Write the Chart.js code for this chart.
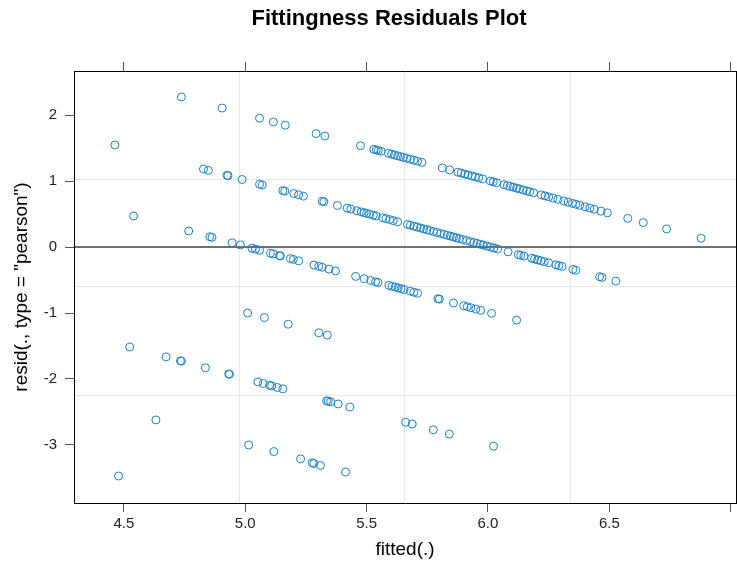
<!DOCTYPE html>
<html>
<head>
<meta charset="utf-8">
<title>Fittingness Residuals Plot</title>
<script src="https://cdn.jsdelivr.net/npm/chart.js"></script>
<style>
  html, body { margin: 0; padding: 0; background: #fff; overflow: hidden; }
  canvas { display: block; }
</style>
</head>
<body>
<canvas id="residChart" width="737" height="575"></canvas>
<script>
// fitted values and pearson residuals, one band at a time
const fitted7 = [4.737, 4.905, 5.059, 5.116, 5.165, 5.292, 5.328, 5.475, 5.530, 5.540, 5.548, 5.560,
  5.590, 5.603, 5.615, 5.628, 5.640, 5.652, 5.665, 5.680, 5.695, 5.710, 5.728, 5.812, 5.842, 5.876,
  5.890, 5.905, 5.918, 5.935, 5.948, 5.962, 5.978, 6.010, 6.022, 6.036, 6.066, 6.080, 6.092, 6.104,
  6.118, 6.130, 6.145, 6.160, 6.172, 6.188, 6.220, 6.235, 6.250, 6.268, 6.288, 6.312, 6.330, 6.348,
  6.362, 6.378, 6.400, 6.420, 6.438, 6.466, 6.492, 6.576, 6.640, 6.736, 6.878];
const resid7 = [2.273, 2.105, 1.951, 1.894, 1.845, 1.718, 1.682, 1.535, 1.480, 1.470, 1.462, 1.450,
  1.420, 1.407, 1.395, 1.382, 1.370, 1.358, 1.345, 1.330, 1.315, 1.300, 1.282, 1.198, 1.168, 1.134,
  1.120, 1.105, 1.092, 1.075, 1.062, 1.048, 1.032, 1.000, 0.988, 0.974, 0.944, 0.930, 0.918, 0.906,
  0.892, 0.880, 0.865, 0.850, 0.838, 0.822, 0.790, 0.775, 0.760, 0.742, 0.722, 0.698, 0.680, 0.662,
  0.648, 0.632, 0.610, 0.590, 0.572, 0.544, 0.518, 0.434, 0.370, 0.274, 0.132];

const fitted6 = [4.463, 4.828, 4.848, 4.925, 4.929, 4.987, 5.059, 5.070, 5.155, 5.163, 5.200, 5.220,
  5.240, 5.317, 5.324, 5.380, 5.420, 5.435, 5.460, 5.478, 5.490, 5.500, 5.512, 5.528, 5.540, 5.566,
  5.580, 5.595, 5.610, 5.628, 5.668, 5.680, 5.695, 5.708, 5.722, 5.735, 5.748, 5.760, 5.775, 5.790,
  5.806, 5.820, 5.832, 5.845, 5.858, 5.870, 5.882, 5.896, 5.912, 5.928, 5.942, 5.955, 5.968, 5.980,
  5.995, 6.010, 6.025, 6.040, 6.083, 6.125, 6.135, 6.148, 6.180, 6.192, 6.205, 6.218, 6.232, 6.250,
  6.280, 6.292, 6.305, 6.350, 6.362, 6.460, 6.470, 6.527];
const resid6 = [1.547, 1.182, 1.162, 1.085, 1.081, 1.023, 0.951, 0.940, 0.855, 0.847, 0.810, 0.790,
  0.770, 0.693, 0.686, 0.630, 0.590, 0.575, 0.550, 0.532, 0.520, 0.510, 0.498, 0.482, 0.470, 0.444,
  0.430, 0.415, 0.400, 0.382, 0.342, 0.330, 0.315, 0.302, 0.288, 0.275, 0.262, 0.250, 0.235, 0.220,
  0.204, 0.190, 0.178, 0.165, 0.152, 0.140, 0.128, 0.114, 0.098, 0.082, 0.068, 0.055, 0.042, 0.030,
  0.015, 0.000, -0.015, -0.030, -0.073, -0.115, -0.125, -0.138, -0.170, -0.182, -0.195, -0.208, -0.222, -0.240,
  -0.270, -0.282, -0.295, -0.340, -0.352, -0.450, -0.460, -0.517];

const fitted5 = [4.540, 4.767, 4.854, 4.863, 4.946, 4.980, 5.028, 5.042, 5.059, 5.104, 5.115, 5.141,
  5.145, 5.186, 5.198, 5.220, 5.283, 5.303, 5.317, 5.345, 5.372, 5.455, 5.490, 5.517, 5.537, 5.547,
  5.592, 5.605, 5.618, 5.630, 5.642, 5.654, 5.680, 5.695, 5.710, 5.794, 5.800, 5.858, 5.900, 5.915,
  5.930, 5.950, 5.970, 6.015, 6.118];
const resid5 = [0.470, 0.243, 0.156, 0.147, 0.064, 0.030, -0.018, -0.032, -0.049, -0.094, -0.105, -0.131,
  -0.135, -0.176, -0.188, -0.210, -0.273, -0.293, -0.307, -0.335, -0.362, -0.445, -0.480, -0.507, -0.527, -0.537,
  -0.582, -0.595, -0.608, -0.620, -0.632, -0.644, -0.670, -0.685, -0.700, -0.784, -0.790, -0.848, -0.890, -0.905,
  -0.920, -0.940, -0.960, -1.005, -1.108];

const fitted4 = [5.010, 5.079, 5.177, 5.303, 5.338];
const resid4 = [-1.000, -1.070, -1.170, -1.300, -1.335];

const fitted3 = [4.524, 4.674, 4.733, 4.737, 4.836, 4.932, 4.935, 5.052, 5.074, 5.100, 5.109, 5.132,
  5.155, 5.335, 5.342, 5.352, 5.383, 5.431, 5.661, 5.688, 5.775, 5.841, 6.023];
const resid3 = [-1.515, -1.665, -1.725, -1.730, -1.830, -1.925, -1.928, -2.045, -2.068, -2.095, -2.105, -2.128,
  -2.150, -2.330, -2.337, -2.347, -2.378, -2.425, -2.655, -2.682, -2.770, -2.835, -3.017];

const fitted2 = [4.478, 4.632, 5.014, 5.118, 5.228, 5.276, 5.283, 5.310, 5.413];
const resid2 = [-3.470, -2.620, -3.000, -3.100, -3.210, -3.270, -3.280, -3.310, -3.410];

// axes
const xRange = [4.2945, 7.022];
const yRange = [-3.879, 2.667];
const xTicks = [4.5, 5.0, 5.5, 6.0, 6.5, 7.0];
const xTickLabels = ["4.5", "5.0", "5.5", "6.0", "6.5", ""];
const yTicks = [-3, -2, -1, 0, 1, 2];
const yTickLabels = ["-3", "-2", "-1", "0", "1", "2"];
const xGrid = [4.976, 5.658, 6.340];
const yGrid = [-2.243, -0.606, 1.03];
const refLine = [0];

const FONT = "'Liberation Sans', Arial, sans-serif";

let fittedAll = [].concat(fitted7, fitted6, fitted5, fitted4, fitted3, fitted2);
let residAll = [].concat(resid7, resid6, resid5, resid4, resid3, resid2);
let points = fittedAll.map((f, i) => ({ x: f, y: residAll[i] }));

const mainTitle = {
  id: "mainTitle",
  afterDraw(chart) {
    const ctx = chart.ctx;
    ctx.save();
    ctx.font = "bold 22px " + FONT;
    ctx.fillStyle = "#000";
    ctx.textAlign = "center";
    ctx.textBaseline = "middle";
    ctx.fillText("Fittingness Residuals Plot", 389, 19);
    ctx.restore();
  },
};

function fixTicks(values) {
  return (scale) => {
    scale.ticks = values.map((v) => ({ value: v }));
  };
}

// keep the tick labels from pulling the plot box inwards
function noSidePadding(scale) {
  scale.paddingLeft = 0;
  scale.paddingRight = 0;
}

let ctx = document.getElementById("residChart");
new Chart(ctx, {
  type: "scatter",
  data: {
    datasets: [
      {
        label: "resid",
        data: points,
        pointStyle: "circle",
        pointRadius: 4,
        pointBorderWidth: 1,
        borderColor: "#1a80c4",
        backgroundColor: "rgba(0,0,0,0)",
      },
    ],
  },
  plugins: [mainTitle],
  options: {
    responsive: false,
    animation: false,
    events: [],
    layout: { autoPadding: false, padding: { top: 0, right: 1, bottom: 0, left: 0 } },
    plugins: {
      legend: { display: false },
      tooltip: { enabled: false },
      title: { display: false },
    },
    scales: {
      x: {
        type: "linear",
        position: "bottom",
        min: xRange[0],
        max: xRange[1],
        afterBuildTicks: fixTicks(xTicks),
        afterFit: (s) => { s.height = 72; noSidePadding(s); },
        ticks: {
          autoSkip: false,
          maxRotation: 0,
          padding: 3,
          color: "#222",
          font: { family: FONT, size: 15 },
          callback: (v, i) => xTickLabels[i],
        },
        grid: { drawOnChartArea: false, tickLength: 9, tickColor: "#555" },
        border: { color: "#000", width: 1 },
        title: {
          display: true,
          text: "fitted(.)",
          color: "#000",
          font: { family: FONT, size: 19 },
          padding: { top: 0, bottom: 14 },
        },
      },
      xTop: {
        type: "linear",
        position: "top",
        min: xRange[0],
        max: xRange[1],
        afterBuildTicks: fixTicks(xTicks),
        afterFit: (s) => { s.height = 71; noSidePadding(s); },
        ticks: { display: false },
        grid: { drawOnChartArea: false, tickLength: 9, tickColor: "#555" },
        border: { color: "#000", width: 1 },
      },
      xGridAxis: {
        type: "linear",
        position: "bottom",
        min: xRange[0],
        max: xRange[1],
        afterBuildTicks: fixTicks(xGrid),
        afterFit: (s) => { s.height = 0; noSidePadding(s); },
        ticks: { display: false },
        grid: { drawTicks: false, color: "#e8e8e8", lineWidth: 1 },
        border: { display: false },
      },
      y: {
        type: "linear",
        position: "left",
        min: yRange[0],
        max: yRange[1],
        afterBuildTicks: fixTicks(yTicks),
        afterFit: (s) => { s.width = 74; },
        ticks: {
          autoSkip: false,
          padding: 8,
          color: "#222",
          font: { family: FONT, size: 15 },
          callback: (v, i) => yTickLabels[i],
        },
        grid: { drawOnChartArea: false, tickLength: 9, tickColor: "#555" },
        border: { color: "#000", width: 1 },
        title: {
          display: true,
          text: 'resid(., type = "pearson")',
          color: "#000",
          font: { family: FONT, size: 19 },
          padding: { top: 10, bottom: 0 },
        },
      },
      yRight: {
        type: "linear",
        position: "right",
        min: yRange[0],
        max: yRange[1],
        afterBuildTicks: fixTicks(yTicks),
        afterFit: (s) => { s.width = 0; },
        ticks: { display: false },
        grid: { drawOnChartArea: false, drawTicks: false },
        border: { color: "#000", width: 1 },
      },
      yGridAxis: {
        type: "linear",
        position: "left",
        min: yRange[0],
        max: yRange[1],
        afterBuildTicks: fixTicks(yGrid.concat(refLine)),
        afterFit: (s) => { s.width = 0; },
        ticks: { display: false },
        grid: {
          drawTicks: false,
          color: (c) => (c.tick && c.tick.value === 0 ? "#707070" : "#e8e8e8"),
          lineWidth: (c) => (c.tick && c.tick.value === 0 ? 2 : 1),
        },
        border: { display: false },
      },
    },
  },
});
</script>
</body>
</html>
